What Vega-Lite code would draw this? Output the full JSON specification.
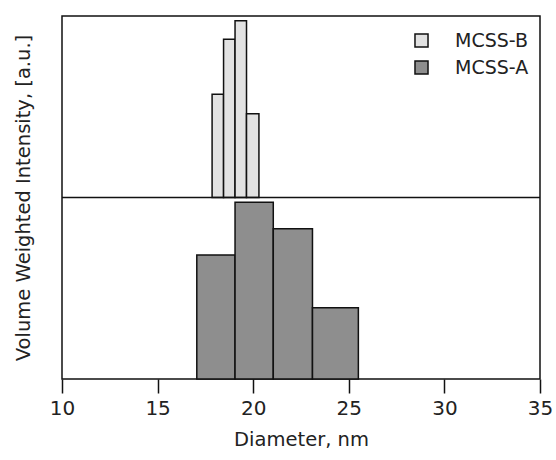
{
  "$schema": "https://vega.github.io/schema/vega-lite/v6.json",
  "width": 478,
  "height": 363,
  "autosize": {"type": "none"},
  "padding": {"left": 62, "top": 16, "right": 16, "bottom": 81},
  "config": {
    "font": "DejaVu Sans",
    "view": {"stroke": "#111", "strokeWidth": 1.5},
    "axis": {"labelColor": "#222", "titleColor": "#222", "grid": false},
    "legend": {"labelColor": "#222"}
  },
  "datasets": {
    "b": [
      {"sample": "MCSS-B", "start": 17.85, "end": 18.45, "value": 0.569},
      {"sample": "MCSS-B", "start": 18.45, "end": 19.05, "value": 0.872},
      {"sample": "MCSS-B", "start": 19.05, "end": 19.65, "value": 0.974},
      {"sample": "MCSS-B", "start": 19.65, "end": 20.3, "value": 0.462}
    ],
    "a": [
      {"sample": "MCSS-A", "start": 17.05, "end": 19.05, "value": 0.683},
      {"sample": "MCSS-A", "start": 19.05, "end": 21.05, "value": 0.974},
      {"sample": "MCSS-A", "start": 21.05, "end": 23.1, "value": 0.828},
      {"sample": "MCSS-A", "start": 23.1, "end": 25.5, "value": 0.393}
    ]
  },
  "layer": [
    {
      "data": {"name": "b"},
      "mark": {"type": "bar", "stroke": "#111", "strokeWidth": 1.5},
      "encoding": {
        "x": {
          "field": "start", "type": "quantitative",
          "scale": {"domain": [10, 35], "nice": false},
          "axis": {
            "title": "Diameter, nm",
            "values": [10, 15, 20, 25, 30, 35],
            "domain": false, "labelFlush": false, "labelOverlap": false,
            "tickSize": 14, "tickWidth": 1.5, "tickColor": "#111",
            "labelFontSize": 20, "titleFontSize": 19.5,
            "labelPadding": 5, "titlePadding": 12, "titleFontWeight": "normal"
          }
        },
        "x2": {"field": "end"},
        "y": {"field": "value", "type": "quantitative", "scale": {"domain": [-1, 1], "nice": false, "zero": false}, "axis": null},
        "y2": {"datum": 0},
        "fill": {
          "field": "sample", "type": "nominal",
          "scale": {"domain": ["MCSS-B", "MCSS-A"], "range": ["#e2e2e2", "#8e8e8e"]},
          "legend": {
            "title": null, "orient": "none", "legendX": 350, "legendY": 15,
            "symbolType": "square", "symbolSize": 170, "symbolStrokeColor": "#111",
            "symbolStrokeWidth": 1.5, "symbolOpacity": 1,
            "labelFontSize": 19, "labelOffset": 24, "rowPadding": 6
          }
        }
      }
    },
    {
      "data": {"name": "a"},
      "mark": {"type": "bar", "stroke": "#111", "strokeWidth": 1.5},
      "encoding": {
        "x": {"field": "start", "type": "quantitative"},
        "x2": {"field": "end"},
        "y": {
          "field": "value", "type": "quantitative",
          "scale": {"domain": [0, 2], "nice": false},
          "axis": {
            "title": "Volume Weighted Intensity, [a.u.]",
            "labels": false, "ticks": false, "domain": false,
            "titleFontSize": 19.5, "titlePadding": 29, "titleFontWeight": "normal"
          }
        },
        "y2": {"datum": 0},
        "fill": {"field": "sample", "type": "nominal"}
      }
    },
    {
      "data": {"values": [{}]},
      "mark": {"type": "rule", "stroke": "#111", "strokeWidth": 1.5},
      "encoding": {
        "y": {"datum": 0, "type": "quantitative", "scale": {"domain": [-1, 1], "nice": false, "zero": false}, "axis": null}
      }
    }
  ],
  "resolve": {"scale": {"y": "independent"}, "axis": {"y": "independent"}}
}
